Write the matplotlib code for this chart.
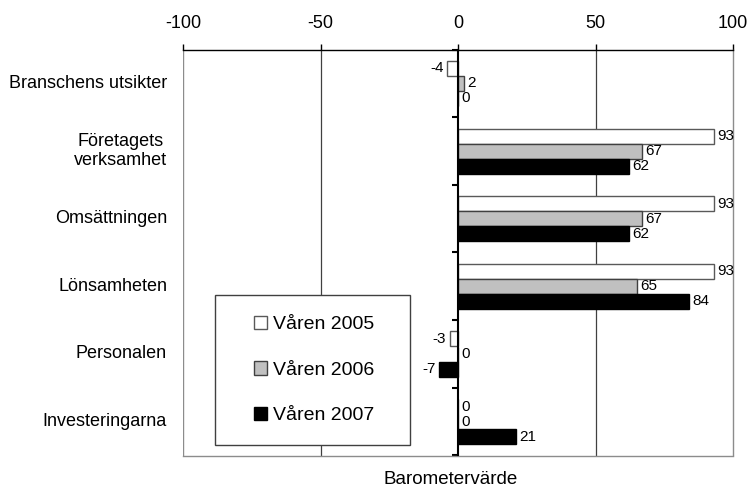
import matplotlib
matplotlib.use('Agg')
import matplotlib.pyplot as plt
import matplotlib.transforms as mtransforms
from matplotlib.patches import Rectangle
import numpy as np

categories = ["Branschens utsikter", "Företagets\nverksamhet", "Omsättningen",
              "Lönsamheten", "Personalen", "Investeringarna"]
series_names = ["Våren 2005", "Våren 2006", "Våren 2007"]
v2005 = [-4, 93, 93, 93, -3, 0]
v2006 = [2, 67, 67, 65, 0, 0]
v2007 = [0, 62, 62, 84, -7, 21]
xticks = [-100, -50, 0, 50, 100]
xlabel = "Barometervärde"

plt.rcParams['font.family'] = ['Liberation Sans', 'DejaVu Sans']

W, H = 747, 488
fig = plt.figure(figsize=(W / 100, H / 100), dpi=100)
L, R, T, B = 183, 733, 49.5, 455.5
ax = fig.add_axes([L / W, 1 - B / H, (R - L) / W, (B - T) / H])
n = len(categories)
ax.set_ylim(n, 0)
ax.set_xlim(-100, 100)

bh = 15 / ((B - T) / n)
centers = np.arange(n) + 0.5
offsets = [-bh, 0, bh]
colors = ['white', '#c0c0c0', 'black']
edges = ['#595959', '#404040', 'black']

for vals, off, c, e, name in zip([v2005, v2006, v2007], offsets, colors, edges, series_names):
    y = centers + off
    ax.barh(y, vals, height=bh, color=c, edgecolor=e, linewidth=1, label=name, zorder=2)
    for yy, v in zip(y, vals):
        if v < 0:
            ax.annotate(str(v), (v, yy), xytext=(-2.5, 0), textcoords='offset points',
                        ha='right', va='center', fontsize=11)
        else:
            ax.annotate(str(v), (v, yy), xytext=(2.5, 0), textcoords='offset points',
                        ha='left', va='center', fontsize=11)

# grid lines and borders
for g in [-50, 50]:
    ax.axvline(g, color='#404040', lw=0.9, zorder=1)
ax.axvline(-100, color='#8c8c8c', lw=1, zorder=1)
for s in ['right', 'bottom']:
    ax.spines[s].set_color('#8c8c8c')
    ax.spines[s].set_linewidth(1)
ax.spines['top'].set_color('black')
ax.spines['top'].set_linewidth(1)
ax.spines['left'].set_position(('data', 0))
ax.spines['left'].set_color('black')
ax.spines['left'].set_linewidth(1.5)
ax.spines['left'].set_zorder(3)

ax.xaxis.tick_top()
ax.set_xticks(xticks)
ax.set_xticklabels([str(t) for t in xticks])
ax.tick_params(axis='x', length=4, width=1, pad=8.5, labelsize=13, direction='out')
ax.set_yticks(np.arange(n + 1))
ax.set_yticklabels([])
ax.tick_params(axis='y', length=4.5, width=1.5, direction='out')

trans = mtransforms.blended_transform_factory(ax.transAxes, ax.transData)
for c, lab in zip(centers, categories):
    ax.text(-0.029, c, lab, transform=trans, ha='right', va='center', fontsize=13,
            multialignment='center')

# legend box
rx0 = (215 - L) / (R - L)
rx1 = (410 - L) / (R - L)
ry0 = (B - 445) / (B - T)
ry1 = (B - 295) / (B - T)
ax.add_patch(Rectangle((rx0, ry0), rx1 - rx0, ry1 - ry0, transform=ax.transAxes,
                       facecolor='white', edgecolor='#404040', lw=1, zorder=6, clip_on=False))
leg = ax.legend(loc='center left', bbox_to_anchor=((254 - L) / (R - L), (B - 370) / (B - T)),
                frameon=False, fontsize=14, borderpad=0, handlelength=0.67,
                handleheight=0.67, handletextpad=0.3, labelspacing=1.45, borderaxespad=0)
leg.set_zorder(7)

fig.text(451 / W, 1 - 480 / H, xlabel, ha='center', va='center', fontsize=13.5)

fig.savefig('out.png', dpi=100)
